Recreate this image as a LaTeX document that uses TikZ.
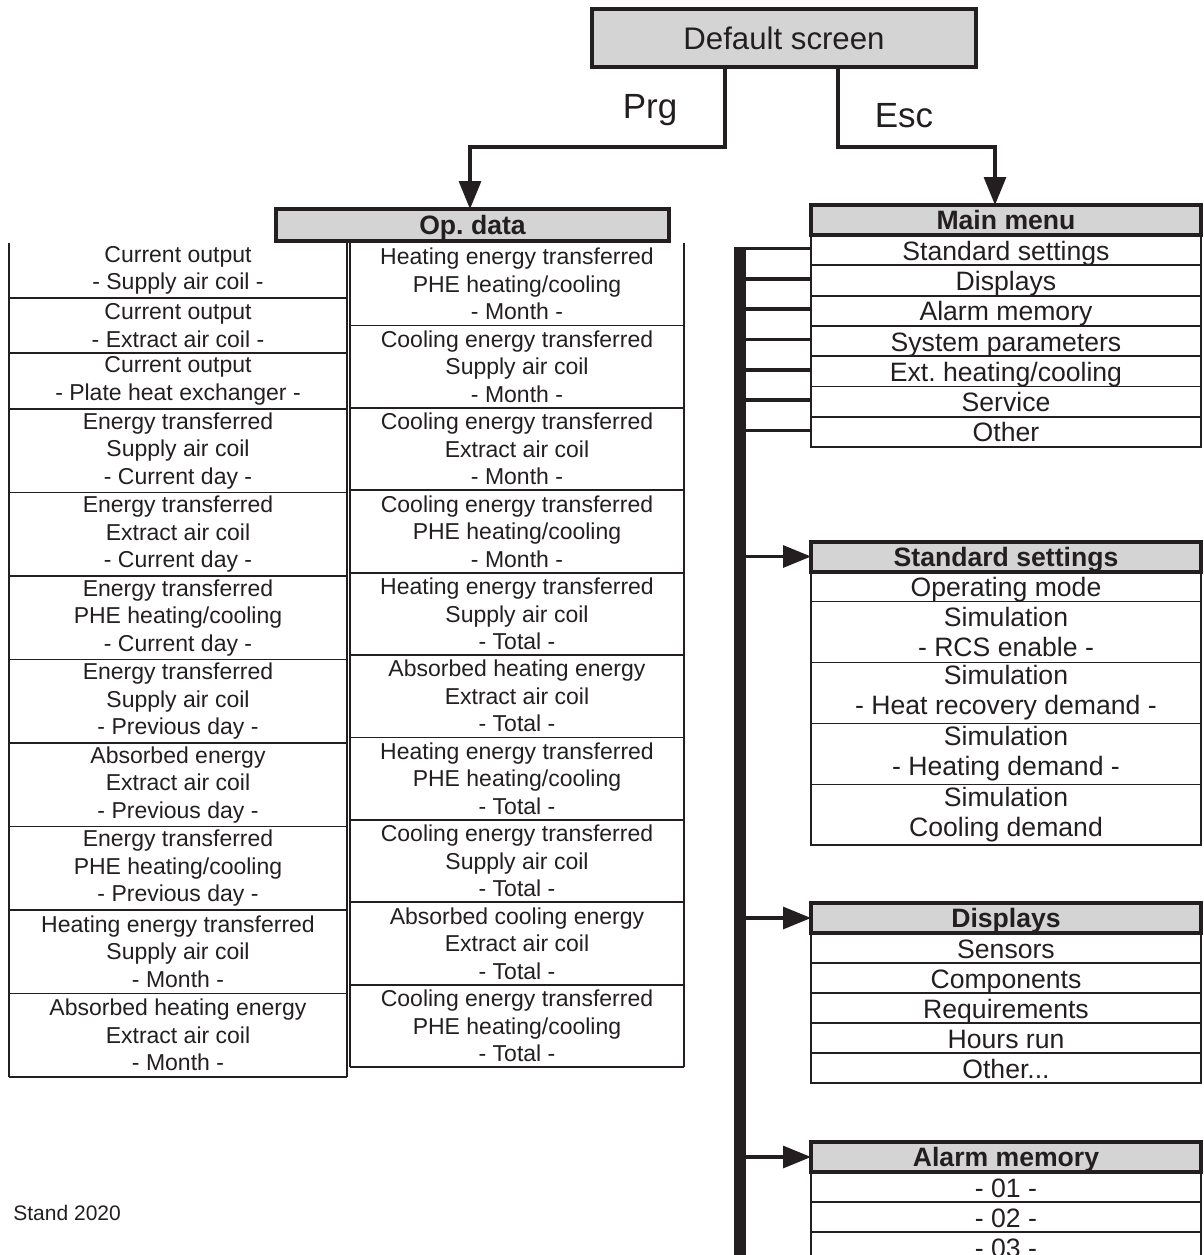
\documentclass[tikz,border=0pt]{standalone}
\usepackage{fontspec}
\setmainfont{Liberation Sans}
\usetikzlibrary{positioning,arrows.meta}
\definecolor{mnInk}{HTML}{231F20}
\definecolor{mnGray}{HTML}{D4D4D4}
\tikzset{
  mn-head/.style={
    draw=mnInk, line width=2pt, fill=mnGray, text=mnInk,
    font=\fontsize{13.3}{15}\selectfont\bfseries, minimum width=195pt,
    minimum height=15pt, inner sep=0pt, outer sep=0pt,
    text height=11pt, text depth=1.5pt
  },
  mn-row/.style={draw=mnInk, line width=0.9pt, text=mnInk,
    font=\fontsize{13.3}{15}\selectfont, align=center, minimum width=195pt,
    inner sep=0pt, outer sep=0pt},
  mn-one/.style={mn-row, minimum height=15pt, text height=12pt,
    text depth=2pt},
  op-row/.style={text=mnInk, font=\fontsize{11.5}{13.75}\selectfont,
    align=center, inner sep=0pt, outer sep=0pt},
  op-rule/.style={draw=mnInk, line width=0.9pt},
  mn-flow/.style={-{Triangle[length=14pt,width=11pt]}, line width=1.6pt,
    draw=mnInk},
  mn-bus/.style={line width=6pt, draw=mnInk},
  mn-branch/.style={line width=1.8pt, draw=mnInk},
  mn-key/.style={font=\fontsize{17.5}{20}\selectfont, text=mnInk}
}
\frenchspacing
\begin{document}
\begin{tikzpicture}[x=0.5pt, y=-0.5pt]
\useasboundingbox (0,0) rectangle (1204,1255);

% top level
\node[mn-head, line width=2.25pt, font=\fontsize{15.6}{18}\selectfont,
  minimum width=192pt, minimum height=29pt, text height=12pt,
  text depth=0.5pt] (ds) at (784,38) {Default screen};
\node[mn-head, minimum width=196.5pt, minimum height=16pt] (opd)
  at (472.5,225) {Op. data};
\node[mn-head] (mm) at (1006,220) {Main menu};

\coordinate (prg) at (725,147);
\coordinate (esc) at (838,147);
\draw[mn-flow] (ds.south -| prg) -- (prg) -| ([xshift=-1.25pt]opd.north);
\draw[mn-flow] (ds.south -| esc) -- (esc) -| ([xshift=-5.5pt]mm.north);
\node[mn-key] (kprg) at (650,110) {Prg};
\node[mn-key] (kesc) at (904,116) {Esc};

% operating data, left column
\coordinate (lc0) at (178,243);
\foreach \h/\txt [count=\i] in {
  27.5/{Current output\\- Supply air coil -},
  27.5/{Current output\\- Extract air coil -},
  28/{Current output\\- Plate heat exchanger -},
  41.75/{Energy transferred\\Supply air coil\\- Current day -},
  41.75/{Energy transferred\\Extract air coil\\- Current day -},
  41.75/{Energy transferred\\PHE heating/cooling\\- Current day -},
  41.75/{Energy transferred\\Supply air coil\\- Previous day -},
  41.75/{Absorbed energy\\Extract air coil\\- Previous day -},
  41.75/{Energy transferred\\PHE heating/cooling\\- Previous day -},
  41.75/{Heating energy transferred\\Supply air coil\\- Month -},
  41.75/{Absorbed heating energy\\Extract air coil\\- Month -}}
{
  \pgfmathtruncatemacro\j{\i-1}
  \node[op-row, minimum width=169pt, minimum height=\h pt,
    below=0pt of lc\j] (lc\i) {\txt};
  \draw[op-rule] (lc\i.south west) -- (lc\i.south east);
}
\draw[op-rule] (lc1.north west) -- (lc11.south west);
\draw[op-rule] (lc1.north east) -- (lc11.south east);

% operating data, right column
\coordinate (rc0) at (517,243);
\foreach \txt [count=\i] in {
  {Heating energy transferred\\PHE heating/cooling\\- Month -},
  {Cooling energy transferred\\Supply air coil\\- Month -},
  {Cooling energy transferred\\Extract air coil\\- Month -},
  {Cooling energy transferred\\PHE heating/cooling\\- Month -},
  {Heating energy transferred\\Supply air coil\\- Total -},
  {Absorbed heating energy\\Extract air coil\\- Total -},
  {Heating energy transferred\\PHE heating/cooling\\- Total -},
  {Cooling energy transferred\\Supply air coil\\- Total -},
  {Absorbed cooling energy\\Extract air coil\\- Total -},
  {Cooling energy transferred\\PHE heating/cooling\\- Total -}}
{
  \pgfmathtruncatemacro\j{\i-1}
  \node[op-row, minimum width=167pt, minimum height=41.2pt,
    below=0pt of rc\j] (rc\i) {\txt};
  \draw[op-rule] (rc\i.south west) -- (rc\i.south east);
}
\draw[op-rule] (rc1.north west) -- (rc10.south west);
\draw[op-rule] (rc1.north east) -- (rc10.south east);

% main menu with bus
\coordinate (bustop) at (740,247);
\coordinate (busend) at (740,1262);
\coordinate (mmrow0) at (mm.south);
\foreach \txt [count=\i] in {Standard settings, Displays, Alarm memory,
  System parameters, Ext. heating/cooling, Service, Other}
{
  \pgfmathtruncatemacro\j{\i-1}
  \node[mn-one, minimum height=15.15pt, below=0pt of mmrow\j] (mmrow\i)
    {\txt};
  \draw[mn-branch] ([yshift=0.75pt]mmrow\i.west -| bustop)
    -- ([yshift=0.75pt]mmrow\i.west);
}
\draw[mn-bus] (bustop) -- (busend);

% standard settings
\node[mn-head] (ss) at (1006,556.5) {Standard settings};
\node[mn-one, below=0pt of ss] (ssrow1) {Operating mode};
\foreach \h/\txt [count=\i from 2] in {
  30.5/{Simulation\\- RCS enable -},
  30.5/{Simulation\\- Heat recovery demand -},
  30.5/{Simulation\\- Heating demand -},
  30.25/{Simulation\\Cooling demand}}
{
  \pgfmathtruncatemacro\j{\i-1}
  \node[mn-row, minimum height=\h pt, below=0pt of ssrow\j] (ssrow\i)
    {\txt};
}
\draw[mn-flow] (ss.west -| bustop) -- (ss.west);

% displays
\node[mn-head] (dsp) at (1006,918) {Displays};
\coordinate (dsprow0) at (dsp.south);
\foreach \txt [count=\i] in {Sensors, Components, Requirements, Hours run,
  Other.{}.{}.}
{
  \pgfmathtruncatemacro\j{\i-1}
  \node[mn-one, below=0pt of dsprow\j] (dsprow\i) {\txt};
}
\draw[mn-flow] (dsp.west -| bustop) -- (dsp.west);

% alarm memory
\node[mn-head] (am) at (1006,1157) {Alarm memory};
\coordinate (amrow0) at (am.south);
\foreach \txt [count=\i] in {- 01 -, - 02 -, - 03 -}
{
  \pgfmathtruncatemacro\j{\i-1}
  \node[mn-one, below=0pt of amrow\j] (amrow\i) {\txt};
}
\draw[mn-flow] (am.west -| bustop) -- (am.west);

\node[anchor=west, inner sep=0pt, text=mnInk,
  font=\fontsize{10.5}{12}\selectfont] (stand) at (13,1213) {Stand 2020};
\end{tikzpicture}
\end{document}
